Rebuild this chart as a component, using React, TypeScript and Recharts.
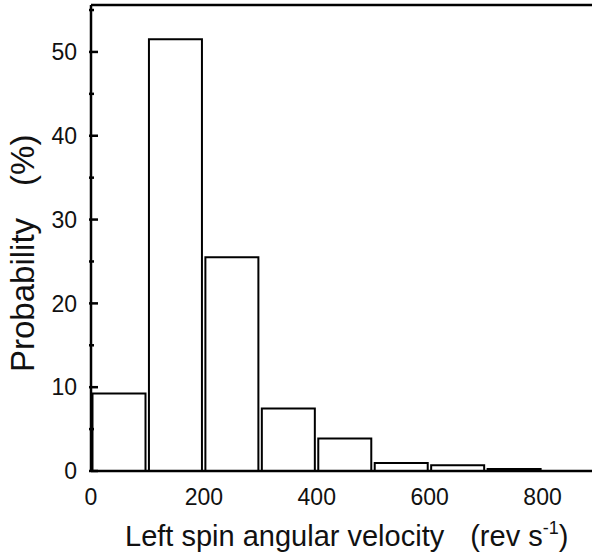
import React from "react";
import { BarChart, Bar, XAxis, YAxis, ReferenceLine } from "recharts";

// histogram bins (rev s^-1), each 100 wide
const binStart = [0, 100, 200, 300, 400, 500, 600, 700, 800];
const probability = [9.24, 51.5, 25.5, 7.45, 3.87, 0.95, 0.7, 0.25, 0];
const xTicks = [0, 200, 400, 600, 800];
const yTicks = [0, 5, 10, 15, 20, 25, 30, 35, 40, 45, 50, 55];
const yTop = 55.6;

const font = "'Liberation Sans', Arial, sans-serif";

const data = binStart.map((s, i) => ({ mid: s + 50, p: probability[i] }));

const YTick = (props: any) => {
  const { x, y, payload } = props;
  const major = payload.value % 10 === 0;
  return (
    <g>
      <line x1={x} x2={x + (major ? 9 : 5)} y1={y} y2={y} stroke="#000" strokeWidth={2.5} />
      {major && (
        <text x={x - 12} y={y} dy="0.36em" textAnchor="end" fontSize={23} fontFamily={font} fill="#111">
          {payload.value}
        </text>
      )}
    </g>
  );
};

const XTick = (props: any) => {
  const { x, y, payload } = props;
  return (
    <text x={x} y={y + 24} dy="0.36em" textAnchor="middle" fontSize={23} fontFamily={font} fill="#111">
      {payload.value}
    </text>
  );
};

const XLabel = (props: any) => {
  const vb = props.viewBox;
  return (
    <text x={vb.x + 34} y={vb.y + 75} fontSize={29} fontFamily={font} fill="#111">
      Left spin angular velocity
      <tspan dx={26}>(rev s</tspan>
      <tspan dy={-12} fontSize={18}>-1</tspan>
      <tspan dy={12}>)</tspan>
    </text>
  );
};

const YLabel = (props: any) => {
  const vb = props.viewBox;
  const x = vb.x + 34;
  const y = vb.y + vb.height - 99;
  return (
    <text x={x} y={y} transform={`rotate(-90, ${x}, ${y})`} fontSize={33} fontFamily={font} fill="#111">
      Probability
      <tspan dx={32}>(%)</tspan>
    </text>
  );
};

export default function App() {
  return (
    <div style={{ position: "fixed", left: 0, top: 0, width: 592, height: 555, overflow: "hidden", background: "#fff" }}>
      <BarChart width={610} height={555} data={data} margin={{ top: 5, right: 11, left: 0, bottom: 0 }} barCategoryGap={1.5}>
        <XAxis
          dataKey="mid"
          type="number"
          domain={[0, 900]}
          ticks={xTicks}
          height={84}
          tickSize={0}
          tickLine={false}
          tick={<XTick />}
          axisLine={{ stroke: "#000", strokeWidth: 2.5 }}
          label={<XLabel />}
        />
        <YAxis
          width={91}
          domain={[0, yTop]}
          ticks={yTicks}
          tickSize={0}
          tickLine={false}
          tick={<YTick />}
          axisLine={{ stroke: "#000", strokeWidth: 2.5 }}
          label={<YLabel />}
          interval={0}
        />
        <ReferenceLine y={yTop} stroke="#000" strokeWidth={2.5} />
        <Bar dataKey="p" fill="#fff" stroke="#000" strokeWidth={2} isAnimationActive={false} />
      </BarChart>
    </div>
  );
}
